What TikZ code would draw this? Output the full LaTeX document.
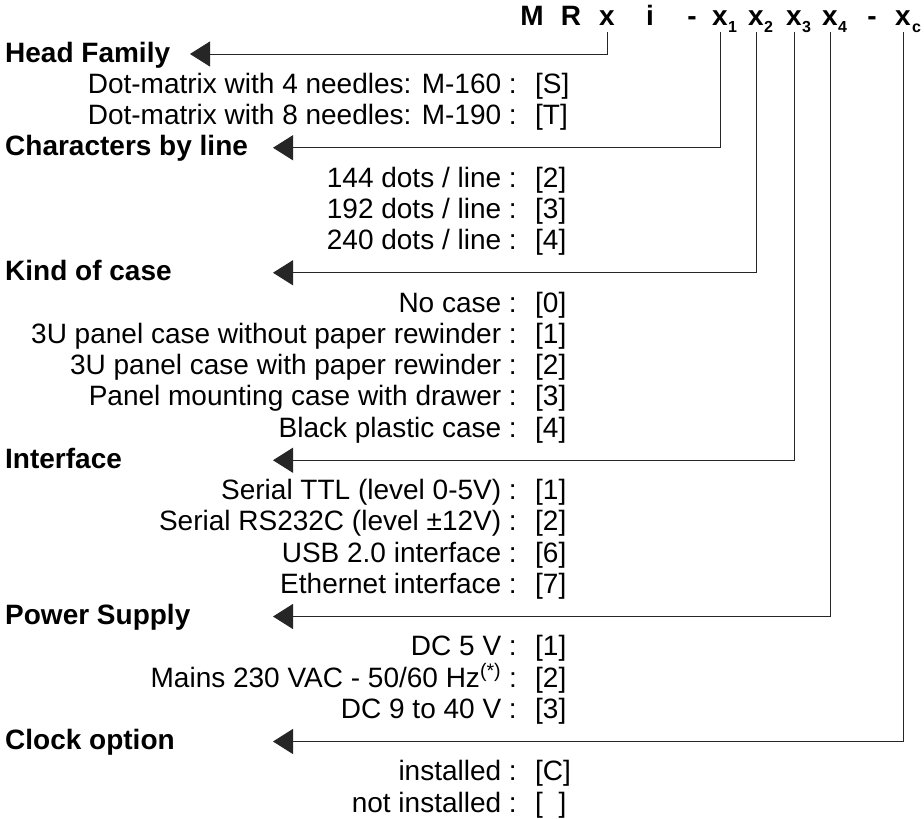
\documentclass[tikz,border=0pt]{standalone}
\usepackage{fontspec}
\setmainfont{Liberation Sans}
\usetikzlibrary{arrows.meta}
\begin{document}
\begin{tikzpicture}[x=1pt,y=-1pt]
\tikzset{
  cat/.style={font=\fontsize{28}{31}\selectfont\bfseries, anchor=base west, inner sep=0pt},
  desc/.style={font=\fontsize{28}{31}\selectfont, anchor=base east, inner sep=0pt},
  val/.style={font=\fontsize{28}{31}\selectfont, anchor=base west, inner sep=0pt},
  hdr/.style={font=\fontsize{28}{31}\selectfont\bfseries, anchor=base, inner sep=0pt},
  subs/.style={font=\fontsize{16}{18}\selectfont\bfseries, anchor=base west, inner sep=0pt},
  conn/.style={line width=1pt, draw=black!85, -{Triangle[length=20pt,width=25pt]}},
}
\useasboundingbox (0,0) rectangle (924,819);
\fill[white] (0,0) rectangle (924,819);

% header
\node[hdr] (hM) at (532,25) {M};
\node[hdr] (hR) at (571,25) {R};
\node[hdr] (hx) at (607,25) {x};
\node[hdr] (hi) at (650,25) {i};
\node[hdr] (hd1) at (692,25) {-};
\node[hdr] (hxa) at (720,25) {x};
\node[hdr] (hxb) at (756,25) {x};
\node[hdr] (hxc) at (794,25) {x};
\node[hdr] (hxd) at (830,25) {x};
\node[hdr] (hd2) at (872,25) {-};
\node[hdr] (hxe) at (903,25) {x};
\node[subs] (sa) at (728,32) {1};
\node[subs] (sb) at (764,32) {2};
\node[subs] (sc) at (802,32) {3};
\node[subs] (sd) at (838,32) {4};
\node[subs] (se) at (912,32) {c};

% categories
\node[cat] (cHead) at (5,62) {Head Family};
\node[cat] (cChar) at (5,155.75) {Characters by line};
\node[cat] (cCase) at (5,280.75) {Kind of case};
\node[cat] (cIntf) at (5,468.25) {Interface};
\node[cat] (cPow) at (5,624.5) {Power Supply};
\node[cat] (cClk) at (5,749.5) {Clock option};

% descriptions and values
\node[desc] (d1) at (517,93.25) {Dot-matrix with 4 needles: M-160 :};
\node[val]  (v1) at (535,93.25) {[S]};
\node[desc] (d2) at (517,124.5) {Dot-matrix with 8 needles: M-190 :};
\node[val]  (v2) at (535,124.5) {[T]};

\node[desc] (d3) at (517,187) {144 dots / line :};
\node[val]  (v3) at (535,187) {[2]};
\node[desc] (d4) at (517,218.25) {192 dots / line :};
\node[val]  (v4) at (535,218.25) {[3]};
\node[desc] (d5) at (517,249.5) {240 dots / line :};
\node[val]  (v5) at (535,249.5) {[4]};

\node[desc] (d6) at (517,312) {No case :};
\node[val]  (v6) at (535,312) {[0]};
\node[desc] (d7) at (517,343.25) {3U panel case without paper rewinder :};
\node[val]  (v7) at (535,343.25) {[1]};
\node[desc] (d8) at (517,374.5) {3U panel case with paper rewinder :};
\node[val]  (v8) at (535,374.5) {[2]};
\node[desc] (d9) at (517,405.75) {Panel mounting case with drawer :};
\node[val]  (v9) at (535,405.75) {[3]};
\node[desc] (d10) at (517,437) {Black plastic case :};
\node[val]  (v10) at (535,437) {[4]};

\node[desc] (d11) at (517,499.5) {Serial TTL (level 0-5V) :};
\node[val]  (v11) at (535,499.5) {[1]};
\node[desc] (d12) at (517,530.75) {Serial RS232C (level ±12V) :};
\node[val]  (v12) at (535,530.75) {[2]};
\node[desc] (d13) at (517,562) {USB 2.0 interface :};
\node[val]  (v13) at (535,562) {[6]};
\node[desc] (d14) at (517,593.25) {Ethernet interface :};
\node[val]  (v14) at (535,593.25) {[7]};

\node[desc] (d15) at (517,655.75) {DC 5 V :};
\node[val]  (v15) at (535,655.75) {[1]};
\node[desc] (d16) at (517,687) {Mains 230 VAC - 50/60 Hz\textsuperscript{(*)} :};
\node[val]  (v16) at (535,687) {[2]};
\node[desc] (d17) at (517,718.25) {DC 9 to 40 V :};
\node[val]  (v17) at (535,718.25) {[3]};

\node[desc] (d18) at (517,780.75) {installed :};
\node[val]  (v18) at (535,780.75) {[C]};
\node[desc] (d19) at (517,812) {not installed :};
\node[val]  (v19) at (535,812) {[\hphantom{0}]};

% connectors
\coordinate (top) at (0,32);
\coordinate (tA) at (190,54);
\coordinate (tB) at (273,147.75);
\coordinate (tC) at (273,272.75);
\coordinate (tD) at (273,460.25);
\coordinate (tE) at (273,616.5);
\coordinate (tF) at (273,741.5);
\draw[conn] (hx.south |- top) |- (tA);
\draw[conn] (hxa.south |- top) |- (tB);
\draw[conn] (hxb.south |- top) |- (tC);
\draw[conn] (hxc.south |- top) |- (tD);
\draw[conn] (hxd.south |- top) |- (tE);
\draw[conn] (hxe.south |- top) |- (tF);
\end{tikzpicture}
\end{document}
